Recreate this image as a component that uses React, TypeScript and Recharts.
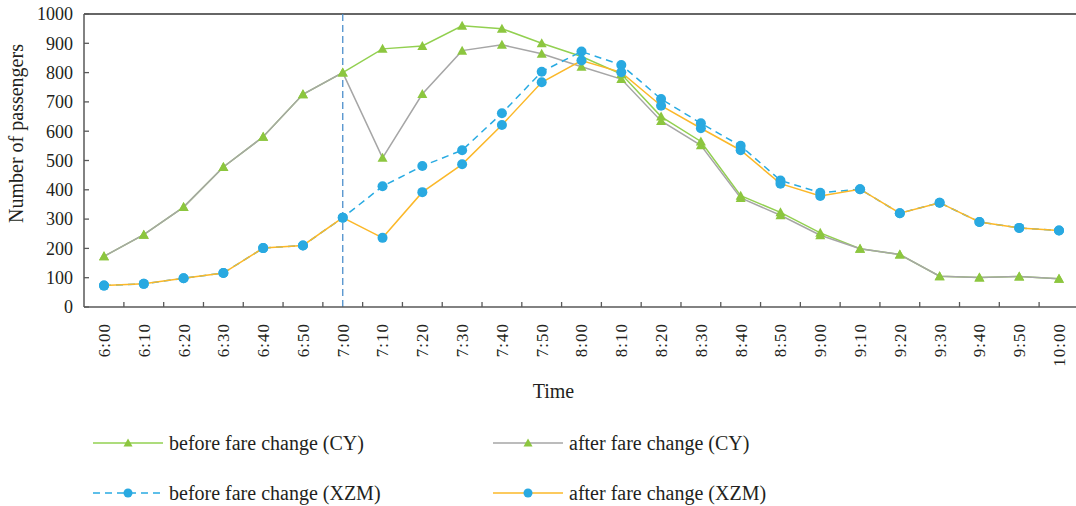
import React from 'react';
import { LineChart, Line, XAxis, YAxis, ReferenceLine } from 'recharts';

const times = ['6:00', '6:10', '6:20', '6:30', '6:40', '6:50', '7:00', '7:10', '7:20', '7:30', '7:40', '7:50', '8:00',
  '8:10', '8:20', '8:30', '8:40', '8:50', '9:00', '9:10', '9:20', '9:30', '9:40', '9:50', '10:00'];

const beforeCY = [173, 247, 341, 478, 581, 726, 800, 881, 891, 960, 950, 900, 855, 795, 650, 565, 380, 323, 253, 199, 179, 105, 101, 104, 96];
const afterCY = [173, 247, 341, 478, 581, 726, 800, 509, 727, 875, 895, 864, 820, 778, 635, 552, 372, 313, 245, 199, 179, 105, 101, 104, 96];
const beforeXZM = [73, 79, 98, 116, 201, 210, 305, 412, 481, 535, 661, 803, 872, 826, 710, 627, 550, 432, 390, 402, 320, 356, 290, 270, 261];
const afterXZM = [73, 79, 98, 116, 201, 210, 305, 236, 392, 487, 621, 767, 841, 801, 687, 610, 535, 421, 379, 402, 320, 356, 290, 270, 261];

const yTicks = [0, 100, 200, 300, 400, 500, 600, 700, 800, 900, 1000];
const fareChangeAt = '7:00';

const data = times.map((t, i) => ({
  time: t,
  beforeCY: beforeCY[i],
  afterCY: afterCY[i],
  beforeXZM: beforeXZM[i],
  afterXZM: afterXZM[i],
}));

const FONT = '"Liberation Serif", "Times New Roman", serif';
const TEXT = '#231f20';
const AXIS = '#595959';
const GREEN_MK = '#8cc63f';
const BLUE_MK = '#29a9e1';

const series = [
  { key: 'beforeCY', name: 'before fare change (CY)', color: '#92d050', dash: undefined, marker: 'tri', mk: GREEN_MK },
  { key: 'afterCY', name: 'after fare change (CY)', color: '#a6a6a6', dash: undefined, marker: 'tri', mk: GREEN_MK },
  { key: 'beforeXZM', name: 'before fare change (XZM)', color: '#29abe2', dash: '7 5', marker: 'dot', mk: BLUE_MK },
  { key: 'afterXZM', name: 'after fare change (XZM)', color: '#fbb829', dash: undefined, marker: 'dot', mk: BLUE_MK },
];

const Marker = ({ type, cx, cy, fill, size = 5 }: any) =>
  type === 'tri' ? (
    <path d={`M${cx},${cy - size} L${cx + size},${cy + size * 0.8} L${cx - size},${cy + size * 0.8} Z`} fill={fill} />
  ) : (
    <circle cx={cx} cy={cy} r={size} fill={fill} />
  );

const makeDot = (type: string, fill: string) => (props: any) => {
  const { cx, cy, index } = props;
  if (cx == null || cy == null) return <g key={`e-${index}`} />;
  return (
    <g key={`${type}-${index}`}>
      <Marker type={type} cx={cx} cy={cy} fill={fill} size={5} />
    </g>
  );
};

const TICK_GAP = 16;

const TimeTick = (props: any) => {
  const { x, y, payload, width, index } = props;
  const band = width / times.length;
  const axisY = y - TICK_GAP;
  const bx = x - band / 2;
  return (
    <g>
      {index > 0 && <line x1={bx} x2={bx} y1={axisY} y2={axisY - 5} stroke={AXIS} strokeWidth={1.3} />}
      <text
        x={x}
        y={y}
        transform={`rotate(-90, ${x}, ${y})`}
        textAnchor="end"
        dy="0.35em"
        fontFamily={FONT}
        fontSize={17}
        letterSpacing={1}
        fill={TEXT}
      >
        {payload.value}
      </text>
    </g>
  );
};

const YTitle = (props: any) => {
  const vb = props.viewBox || {};
  const x = (vb.x ?? 0) + 23;
  const y = (vb.y ?? 0) + (vb.height ?? 0) / 2 - 27;
  return (
    <text x={x} y={y} transform={`rotate(-90, ${x}, ${y})`} textAnchor="middle" fontFamily={FONT} fontSize={20} fill={TEXT}>
      Number of passengers
    </text>
  );
};

const XTitle = (props: any) => {
  const vb = props.viewBox || {};
  const x = (vb.x ?? 0) + (vb.width ?? 0) / 2 - 28;
  const y = (vb.y ?? 0) + 91;
  return (
    <text x={x} y={y} textAnchor="middle" fontFamily={FONT} fontSize={20} fill={TEXT}>
      Time
    </text>
  );
};

const legendPos = [
  { left: 93, top: 443 },
  { left: 493, top: 443 },
  { left: 93, top: 493 },
  { left: 493, top: 493 },
];

const Legend4 = () => (
  <>
    {series.map((s, i) => (
      <div
        key={s.key}
        style={{
          position: 'absolute',
          left: legendPos[i].left,
          top: legendPos[i].top - 12,
          height: 24,
          display: 'flex',
          alignItems: 'center',
          whiteSpace: 'nowrap',
        }}
      >
        <svg width={70} height={24} style={{ display: 'block' }}>
          <line x1={0} x2={70} y1={12} y2={12} stroke={s.color} strokeWidth={1.5} strokeDasharray={s.dash} />
          <Marker type={s.marker} cx={35} cy={12} fill={s.mk} size={4.5} />
        </svg>
        <span style={{ marginLeft: 6, fontFamily: FONT, fontSize: 20, color: TEXT }}>{s.name}</span>
      </div>
    ))}
  </>
);

export default function App() {
  return (
    <div style={{ position: 'absolute', left: 0, top: 0, width: 1076, height: 506, overflow: 'hidden', background: '#fff' }}>
      <LineChart width={1080} height={506} data={data} margin={{ top: 14, right: 1, bottom: 99, left: 0 }}>
        <XAxis
          dataKey="time"
          interval={0}
          height={100}
          padding={{ left: 20, right: 20 }}
          tickSize={0}
          tickMargin={TICK_GAP}
          tickLine={false}
          axisLine={{ stroke: AXIS, strokeWidth: 1.5 }}
          tick={<TimeTick />}
          label={<XTitle />}
        />
        <YAxis
          domain={[0, 1000]}
          ticks={yTicks}
          interval={0}
          width={84}
          tickSize={-5}
          tickMargin={16}
          axisLine={{ stroke: AXIS, strokeWidth: 1.5 }}
          tickLine={{ stroke: AXIS, strokeWidth: 1.3 }}
          tick={{ fontFamily: FONT, fontSize: 18, fill: TEXT }}
          label={<YTitle />}
        />
        <ReferenceLine y={1000} stroke="#666" strokeWidth={1.8} />
        <ReferenceLine x={fareChangeAt} stroke="#4d8fcc" strokeWidth={1.3} strokeDasharray="7 4" />
        {series.map((s) => (
          <Line
            key={s.key}
            type="linear"
            dataKey={s.key}
            name={s.name}
            stroke={s.color}
            strokeWidth={1.5}
            strokeDasharray={s.dash}
            dot={makeDot(s.marker, s.mk)}
            activeDot={false}
            isAnimationActive={false}
          />
        ))}
      </LineChart>
      <Legend4 />
    </div>
  );
}
